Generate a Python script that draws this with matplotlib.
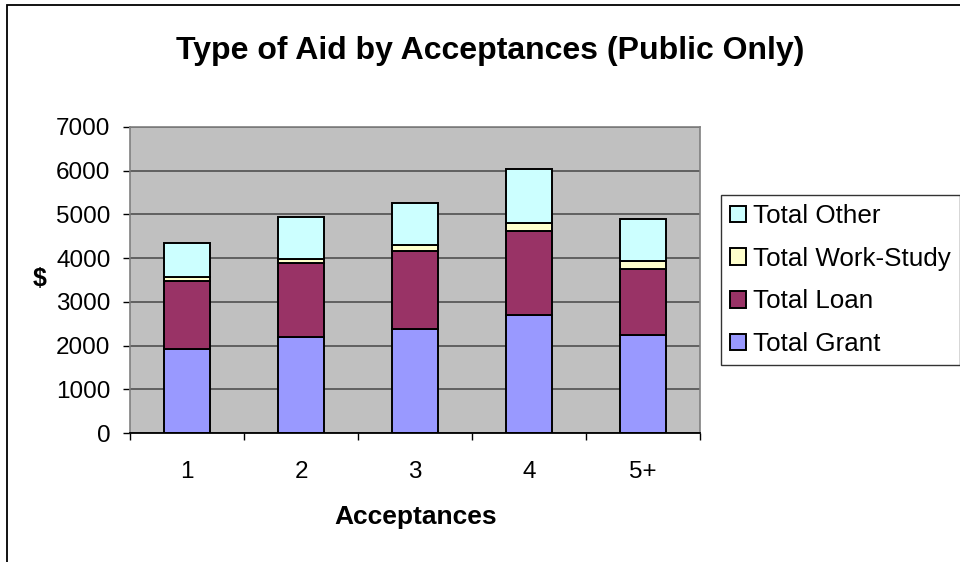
import matplotlib
matplotlib.use("Agg")
import matplotlib.pyplot as plt
from matplotlib.patches import Rectangle
import numpy as np

plt.rcParams['font.family'] = ['Liberation Sans', 'DejaVu Sans']

categories = ["1", "2", "3", "4", "5+"]
grant = [1920, 2190, 2375, 2705, 2245]
loan = [1550, 1695, 1780, 1905, 1500]
work_study = [95, 90, 155, 190, 185]
other = [785, 960, 950, 1230, 955]
series_names = ["Total Grant", "Total Loan", "Total Work-Study", "Total Other"]
series_colors = ["#9999FF", "#993366", "#FFFFCC", "#CCFFFF"]
y_ticks = [0, 1000, 2000, 3000, 4000, 5000, 6000, 7000]

W, H = 960, 562
fig = plt.figure(figsize=(W / 100, H / 100), dpi=100)
fig.patch.set_facecolor("white")

# chart frame
fig.patches.append(Rectangle((7 / W, -0.1), 1.2, 1 - 4.5 / H + 0.1, transform=fig.transFigure,
                             fill=False, edgecolor="black", linewidth=1.3, zorder=0))

ax = fig.add_axes([130 / W, 1 - 433 / H, 570 / W, 306 / H])
ax.set_facecolor("#C0C0C0")

x = np.arange(len(categories))
bottom = np.zeros(len(categories))
bars = []
for vals, name, col in zip([grant, loan, work_study, other], series_names, series_colors):
    b = ax.bar(x, vals, width=0.41, bottom=bottom, color=col, edgecolor="black",
               linewidth=1.4, label=name, zorder=3)
    bars.append(b)
    bottom = bottom + np.array(vals)

ax.set_xlim(-0.5, len(categories) - 0.5)
ax.set_ylim(0, 7000)
ax.set_yticks(y_ticks)
ax.set_yticklabels([str(v) for v in y_ticks], fontsize=17.5)
ax.set_xticks(x)
ax.set_xticklabels(categories, fontsize=17.5)
ax.set_xticks(np.arange(-0.5, len(categories), 1.0), minor=True)
ax.tick_params(axis="x", which="major", length=0, pad=20)
ax.tick_params(axis="x", which="minor", length=5, width=1, color="black", direction="out")
ax.tick_params(axis="y", which="major", length=5, width=1, color="black", direction="out", pad=9)
ax.grid(axis="y", color="#505050", linewidth=1.2, zorder=1)
for side in ["left", "top", "right"]:
    ax.spines[side].set_color("#808080")
    ax.spines[side].set_linewidth(1.2)
ax.spines["bottom"].set_color("black")
ax.spines["bottom"].set_linewidth(1.3)
ax.spines["bottom"].set_zorder(4)

fig.text(490 / W, 1 - 51 / H, "Type of Aid by Acceptances (Public Only)", ha="center", va="center",
         fontsize=23, fontweight="bold")
fig.text(416 / W, 1 - 517 / H, "Acceptances", ha="center", va="center", fontsize=19, fontweight="bold")
fig.text(40 / W, 1 - 279 / H, "$", ha="center", va="center", fontsize=18, fontweight="bold")

handles = [bars[3], bars[2], bars[1], bars[0]]
labels = [series_names[3], series_names[2], series_names[1], series_names[0]]
leg = fig.legend(handles, labels, loc="upper left", bbox_to_anchor=(721 / W, 1 - 195 / H),
                 bbox_transform=fig.transFigure, fontsize=18.7, frameon=True, fancybox=False,
                 edgecolor="black", handlelength=0.6, handleheight=0.6, handletextpad=0.3,
                 labelspacing=0.72, borderpad=0.35, borderaxespad=0)
leg.get_frame().set_linewidth(1.0)

fig.savefig("out.png", dpi=100)
